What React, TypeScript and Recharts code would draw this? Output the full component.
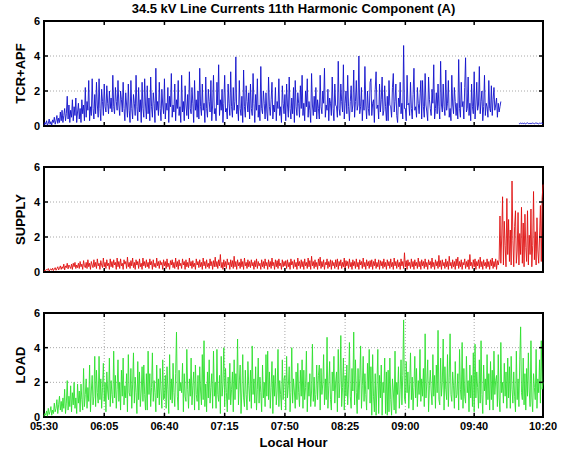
import React from 'react';
import { LineChart, Line, XAxis, YAxis, CartesianGrid, ReferenceArea, ReferenceLine } from 'recharts';

// Time axis: minutes after 05:30, one sample every 30 s (0 .. 290 min)
const SAMPLE_STEP_MIN = 0.5;
const tickMinutes = [0, 35, 70, 105, 140, 175, 210, 250, 290];
const tickLabels = ['05:30', '06:05', '06:40', '07:15', '07:50', '08:25', '09:00', '09:40', '10:20'];
const yTicks = [0, 2, 4, 6];

// TCR+APF (A) — one row = 10 minutes
const tcrApf: (number | null)[] = [
  0.05, 0.2, 0.1, 0.3, 0.05, 0.15, 0.4, 0.1, 0.25, 0.05, 0.35, 0.2, 0.5, 0.1, 0.3, 0.6, 0.15, 0.45, 0.2, 0.8,
  0.3, 0.9, 0.2, 0.6, 1.0, 0.3, 0.7, 1.7, 0.4, 1.2, 0.2, 0.9, 0.5, 1.5, 0.3, 1.1, 0.6, 1.6, 0.2, 0.8,
  1.3, 0.4, 1.0, 0.2, 1.5, 0.7, 1.2, 0.3, 2.2, 0.5, 1.4, 0.9, 2.6, 0.3, 1.1, 0.6, 2.7, 1.0, 0.4, 1.8,
  0.7, 2.5, 1.2, 0.5, 2.7, 1.0, 0.3, 2.1, 1.4, 0.6, 2.4, 1.1, 0.8, 2.3, 1.3, 0.7, 2.0, 1.0, 1.6, 0.8,
  2.9, 1.1, 0.7, 2.2, 1.4, 0.9, 2.6, 1.2, 0.6, 2.0, 1.5, 0.8, 2.5, 1.0, 0.3, 1.9, 1.2, 0.5, 2.4, 0.9,
  0.2, 2.6, 1.0, 0.4, 1.8, 1.3, 0.6, 2.9, 1.1, 0.3, 2.2, 0.8, 1.5, 0.2, 2.5, 1.0, 0.5, 2.7, 1.2, 0.4,
  2.3, 0.7, 1.6, 0.3, 2.8, 1.1, 0.5, 1.9, 1.3, 0.2, 3.3, 0.9, 1.4, 0.6, 2.5, 1.0, 0.3, 2.1, 1.2, 0.7,
  2.7, 0.4, 1.3, 0.9, 2.2, 0.2, 1.7, 1.1, 3.0, 0.5, 1.2, 0.8, 2.4, 0.3, 1.5, 1.0, 2.6, 0.6, 1.1, 0.2,
  2.9, 0.8, 1.4, 0.3, 2.3, 1.2, 0.6, 1.8, 0.4, 3.1, 1.0, 0.7, 2.2, 1.3, 0.2, 2.6, 0.9, 1.5, 0.5, 2.0,
  0.4, 3.3, 1.1, 0.6, 2.4, 0.9, 1.3, 0.2, 2.8, 1.0, 0.5, 2.1, 1.4, 0.8, 2.6, 0.3, 1.2, 2.9, 0.7, 1.0,
  0.3, 2.5, 1.2, 3.5, 0.6, 1.5, 0.9, 2.1, 0.2, 1.3, 2.9, 0.8, 1.0, 0.4, 2.4, 1.3, 0.6, 3.1, 1.1, 0.5,
  2.2, 0.9, 1.4, 3.95, 0.7, 1.2, 0.3, 2.6, 1.0, 0.6, 1.7, 0.2, 3.2, 1.1, 0.5, 2.3, 1.4, 0.8, 1.9, 0.4,
  2.4, 1.0, 0.6, 3.0, 1.3, 0.2, 1.8, 0.9, 2.7, 0.5, 1.2, 0.3, 3.4, 1.0, 0.7, 2.0, 1.3, 0.4, 1.9, 0.8,
  0.3, 2.8, 1.1, 0.6, 1.5, 2.5, 0.4, 1.2, 0.8, 2.2, 0.3, 1.4, 1.0, 2.7, 0.6, 1.1, 0.2, 2.3, 1.3, 0.7,
  1.8, 0.3, 2.4, 1.2, 0.5, 2.8, 1.0, 0.4, 1.6, 0.7, 2.2, 0.2, 2.6, 1.1, 0.6, 1.9, 1.3, 0.5, 2.3, 1.0,
  2.9, 0.6, 1.3, 0.3, 2.0, 1.1, 2.7, 0.5, 1.4, 0.9, 0.2, 3.0, 1.2, 0.6, 1.7, 0.8, 2.2, 0.4, 1.5, 1.0,
  0.4, 2.9, 1.1, 0.7, 2.0, 1.3, 3.3, 0.5, 1.2, 0.9, 2.1, 0.3, 1.6, 1.3, 0.6, 2.8, 1.0, 0.3, 2.4, 1.2,
  1.1, 0.5, 3.7, 1.0, 0.6, 2.4, 1.4, 0.8, 3.5, 0.4, 1.3, 2.0, 0.7, 2.9, 1.1, 0.3, 1.4, 2.3, 0.8, 1.2,
  3.2, 0.5, 1.4, 2.6, 0.9, 1.2, 4.0, 0.7, 1.1, 2.2, 0.3, 1.5, 0.9, 3.4, 1.2, 0.4, 2.0, 1.0, 0.6, 2.5,
  2.7, 0.6, 1.3, 1.5, 0.2, 2.1, 3.1, 1.0, 1.2, 0.4, 2.4, 0.8, 1.5, 2.8, 0.6, 0.9, 2.3, 1.1, 0.3, 1.7,
  0.3, 2.6, 1.2, 1.1, 0.5, 2.2, 3.0, 0.8, 1.4, 2.4, 0.6, 0.2, 1.6, 1.1, 2.5, 0.7, 1.3, 0.4, 4.6, 1.0,
  1.0, 0.3, 2.9, 1.2, 1.3, 0.6, 2.5, 1.0, 0.4, 1.8, 3.3, 0.9, 1.1, 0.5, 2.2, 1.3, 0.7, 1.6, 2.6, 0.4,
  2.6, 1.1, 0.5, 3.0, 1.2, 0.8, 0.3, 2.8, 1.5, 1.0, 0.6, 2.1, 1.3, 3.5, 0.4, 1.0, 1.9, 0.7, 2.4, 1.1,
  0.4, 3.7, 1.2, 0.8, 2.4, 1.1, 0.6, 3.2, 0.9, 1.3, 2.6, 0.5, 1.0, 0.3, 2.9, 1.2, 0.7, 2.2, 1.4, 0.6,
  1.3, 0.4, 3.8, 1.0, 0.5, 2.5, 1.1, 1.4, 0.4, 2.2, 3.9, 0.8, 1.0, 2.8, 0.6, 1.3, 0.3, 2.4, 1.1, 0.7,
  3.1, 0.4, 1.2, 2.5, 0.9, 1.2, 3.4, 0.7, 1.4, 2.0, 0.3, 1.1, 2.9, 0.6, 1.3, 1.1, 0.5, 2.6, 1.0, 0.8,
  2.3, 0.6, 1.5, 2.2, 0.9, 1.2, 1.6, 0.5, 1.3, 0.8, 1.1, 1.4,
  null, null, null, null, null, null, null, null, null, null, null, null, null, null, null, null, null, null, null, null,
  0.15, 0.12, 0.18, 0.14, 0.16, 0.13, 0.17, 0.15, 0.12, 0.16, 0.18, 0.14, 0.15, 0.13, 0.16, 0.14, 0.17, 0.15, 0.13, 0.16,
  0.18, 0.14, 0.15, 0.12, 0.16, 0.15, 0.17, 0.14, 0.16,
];

// SUPPLY (A)
const supply: number[] = [
  0.05, 0.12, 0.08, 0.15, 0.1, 0.2, 0.06, 0.14, 0.18, 0.1, 0.22, 0.08, 0.16, 0.25, 0.1, 0.2, 0.3, 0.12, 0.22, 0.35,
  0.15, 0.3, 0.2, 0.45, 0.12, 0.35, 0.25, 0.5, 0.18, 0.4, 0.3, 0.2, 0.45, 0.15, 0.5, 0.3, 0.55, 0.2, 0.4, 0.25,
  0.5, 0.2, 0.6, 0.3, 0.45, 0.15, 0.65, 0.35, 0.25, 0.55, 0.2, 0.7, 0.3, 0.5, 0.15, 0.6, 0.4, 0.25, 0.7, 0.3,
  0.55, 0.2, 0.75, 0.35, 0.5, 0.15, 0.65, 0.4, 0.25, 0.8, 0.3, 0.55, 0.2, 0.7, 0.35, 0.5, 0.15, 0.75, 0.3, 0.6,
  0.25, 0.7, 0.4, 0.55, 0.15, 0.8, 0.3, 0.6, 0.2, 0.75, 0.35, 0.5, 0.15, 0.7, 0.45, 0.6, 0.2, 0.85, 0.3, 0.55,
  0.2, 0.65, 0.35, 0.8, 0.25, 0.55, 0.15, 0.7, 0.4, 0.6, 0.2, 0.75, 0.3, 0.5, 0.15, 0.8, 0.35, 0.6, 0.25, 0.7,
  0.3, 0.55, 0.2, 0.75, 0.4, 0.6, 0.15, 0.7, 0.3, 0.5, 0.25, 0.8, 0.35, 0.6, 0.2, 0.65, 0.4, 0.55, 0.15, 0.7,
  0.35, 0.6, 0.2, 0.75, 0.3, 0.5, 0.15, 0.65, 0.4, 0.7, 0.25, 0.55, 0.2, 0.8, 0.3, 0.6, 0.15, 0.7, 0.35, 0.5,
  0.2, 0.75, 0.4, 0.6, 0.15, 0.7, 0.3, 0.55, 0.25, 0.8, 0.35, 0.6, 0.2, 0.65, 0.3, 0.5, 0.15, 0.75, 0.4, 0.6,
  0.25, 0.7, 0.3, 0.55, 0.15, 0.8, 0.35, 0.6, 0.2, 0.7, 0.3, 0.5, 0.2, 0.75, 0.35, 0.6, 0.15, 0.65, 0.3, 0.85,
  0.3, 0.6, 0.2, 0.7, 0.35, 1.0, 0.25, 0.55, 0.15, 0.7, 0.3, 0.6, 0.2, 0.75, 0.4, 0.55, 0.15, 0.7, 0.3, 0.65,
  0.2, 0.9, 0.3, 0.6, 0.15, 0.7, 0.35, 0.55, 0.2, 0.75, 0.3, 0.6, 0.15, 0.8, 0.35, 0.55, 0.2, 0.7, 0.3, 0.6,
  0.25, 0.7, 0.35, 0.55, 0.15, 0.65, 0.3, 0.75, 0.2, 0.6, 0.35, 0.5, 0.15, 0.7, 0.3, 0.6, 0.2, 0.75, 0.35, 0.55,
  0.15, 0.7, 0.3, 0.6, 0.2, 0.8, 0.35, 0.55, 0.15, 0.7, 0.3, 0.65, 0.2, 0.75, 0.35, 0.5, 0.15, 0.7, 0.3, 0.6,
  0.35, 0.65, 0.2, 0.7, 0.3, 0.55, 0.15, 0.75, 0.4, 0.6, 0.2, 0.7, 0.3, 0.55, 0.15, 0.8, 0.35, 0.6, 0.2, 0.7,
  0.3, 0.6, 0.15, 0.75, 0.35, 0.55, 0.2, 0.8, 0.3, 0.65, 0.15, 0.9, 0.35, 0.6, 0.2, 0.7, 0.3, 0.55, 0.15, 0.75,
  0.35, 0.85, 0.2, 0.6, 0.3, 0.7, 0.15, 0.55, 0.4, 0.75, 0.2, 0.6, 0.3, 0.7, 0.15, 0.65, 0.35, 0.55, 0.2, 0.7,
  0.3, 0.75, 0.15, 0.6, 0.35, 0.7, 0.2, 0.55, 0.3, 0.8, 0.15, 0.65, 0.35, 0.6, 0.2, 0.75, 0.3, 0.55, 0.15, 0.7,
  0.35, 0.6, 0.2, 0.75, 0.3, 0.55, 0.15, 0.7, 0.4, 0.6, 0.2, 0.8, 0.3, 0.55, 0.15, 0.7, 0.35, 0.6, 0.2, 0.65,
  0.3, 0.7, 0.15, 0.6, 0.35, 0.75, 0.2, 0.55, 0.3, 0.7, 0.15, 0.65, 0.35, 0.6, 0.2, 0.75, 0.3, 0.55, 0.15, 0.7,
  0.35, 0.6, 0.2, 0.75, 0.3, 0.55, 0.15, 0.8, 0.35, 0.6, 0.2, 0.7, 0.3, 0.55, 0.15, 0.75, 0.35, 0.6, 0.2, 1.1,
  0.3, 0.65, 0.15, 0.7, 0.35, 0.55, 0.2, 0.75, 0.3, 0.6, 0.15, 0.7, 0.35, 0.55, 0.2, 0.8, 0.3, 0.6, 0.15, 0.7,
  0.35, 0.6, 0.2, 0.75, 0.3, 0.55, 0.15, 0.7, 0.4, 0.6, 0.2, 0.8, 0.3, 0.55, 0.15, 0.7, 0.35, 0.6, 0.2, 0.95,
  0.3, 0.65, 0.15, 0.7, 0.35, 0.55, 0.2, 0.75, 0.3, 0.6, 0.15, 0.9, 0.35, 0.55, 0.2, 0.7, 0.3, 0.6, 0.15, 0.75,
  0.35, 0.85, 0.2, 0.6, 0.3, 0.7, 0.15, 0.55, 0.4, 0.75, 0.2, 0.6, 0.3, 0.7, 0.15, 1.0, 0.35, 0.55, 0.2, 0.7,
  0.3, 0.75, 0.15, 0.6, 0.35, 0.7, 0.2, 0.85, 0.3, 0.6, 0.15, 0.7, 0.35, 0.55, 0.2, 0.75, 0.3, 0.6, 0.15, 0.7,
  0.35, 0.8, 0.2, 0.6, 0.3, 0.75, 0.15, 0.65, 0.4, 0.7, 3.2, 0.5, 2.0, 4.3, 0.4, 2.9, 1.5, 0.3, 4.2, 1.0,
  3.0, 0.6, 2.4, 0.4, 5.2, 1.8, 0.3, 2.6, 3.5, 0.5, 1.2, 3.4, 0.4, 2.2, 1.0, 3.7, 0.5, 2.8, 0.3, 3.3,
  1.4, 0.6, 3.5, 0.4, 2.1, 1.0, 3.6, 0.3, 1.5, 4.6, 0.7, 2.3, 0.4, 3.1, 1.2, 0.5, 2.0, 3.8, 0.6, 4.2,
  5.0,
];

// LOAD (A)
const load: number[] = [
  0.05, 0.2, 0.1, 0.35, 0.05, 0.5, 0.15, 0.3, 0.6, 0.1, 0.4, 0.2, 0.8, 0.3, 0.5, 1.0, 0.2, 0.7, 1.2, 0.4,
  0.9, 0.3, 1.1, 0.5, 1.6, 0.2, 0.8, 2.1, 0.4, 1.2, 0.6, 1.8, 0.3, 1.4, 0.7, 2.0, 0.5, 1.1, 0.2, 1.9,
  0.8, 1.5, 0.3, 1.9, 1.0, 0.4, 2.8, 0.6, 1.3, 2.2, 0.5, 1.7, 0.9, 3.0, 0.3, 1.5, 2.4, 0.7, 1.2, 3.5,
  0.6, 2.7, 1.4, 0.8, 3.5, 1.0, 2.2, 0.5, 1.7, 3.1, 0.9, 2.0, 0.3, 2.6, 1.5, 1.0, 3.4, 0.6, 2.1, 1.3,
  0.8, 3.8, 1.1, 2.4, 0.5, 1.6, 3.3, 0.9, 2.0, 0.4, 2.7, 1.2, 3.4, 0.7, 1.8, 1.1, 2.5, 0.3, 3.6, 1.4,
  1.2, 2.8, 0.5, 1.9, 3.7, 0.8, 2.3, 1.4, 0.2, 3.2, 1.0, 2.6, 0.6, 1.5, 2.9, 0.9, 3.0, 1.3, 0.4, 2.5,
  0.4, 3.8, 1.3, 2.5, 0.6, 1.7, 3.7, 0.9, 2.1, 1.4, 0.3, 3.0, 1.1, 2.2, 0.7, 2.8, 1.5, 0.5, 3.3, 1.0,
  1.1, 2.4, 0.5, 2.9, 1.6, 0.2, 3.6, 1.0, 2.2, 0.8, 3.1, 1.4, 0.6, 2.5, 4.9, 1.2, 0.4, 2.7, 1.5, 2.0,
  1.4, 3.1, 0.3, 2.5, 1.2, 0.9, 3.9, 1.6, 0.5, 2.2, 1.2, 3.4, 0.7, 1.8, 2.6, 0.4, 3.0, 1.3, 0.9, 2.4,
  0.4, 2.9, 1.5, 0.7, 3.6, 1.0, 4.4, 0.6, 1.9, 0.3, 2.6, 1.1, 3.3, 0.8, 1.7, 2.5, 0.5, 3.8, 1.2, 2.0,
  0.5, 3.9, 1.3, 0.9, 2.4, 0.2, 3.5, 1.2, 1.9, 4.0, 0.6, 2.8, 1.4, 0.3, 2.3, 1.0, 3.1, 0.7, 1.6, 2.6,
  0.3, 3.3, 1.0, 2.5, 1.6, 4.5, 0.7, 2.0, 3.0, 0.2, 1.5, 3.6, 1.1, 0.6, 2.7, 1.3, 0.4, 3.2, 1.8, 0.9,
  2.7, 0.5, 4.1, 1.3, 2.2, 0.8, 2.9, 0.4, 1.6, 3.4, 0.8, 2.3, 1.4, 0.3, 3.0, 1.1, 2.0, 0.6, 3.6, 1.2,
  3.8, 1.0, 2.6, 0.5, 1.7, 3.2, 0.2, 2.4, 1.2, 2.8, 0.7, 1.5, 3.9, 0.6, 2.1, 1.3, 0.4, 3.3, 1.0, 2.2,
  2.4, 0.4, 3.5, 1.1, 1.8, 2.9, 0.3, 1.4, 4.0, 0.8, 2.2, 1.5, 0.5, 2.6, 1.0, 3.1, 1.4, 0.6, 2.7, 1.2,
  3.3, 0.5, 2.7, 1.0, 1.7, 3.8, 0.3, 2.0, 1.2, 2.5, 0.6, 1.5, 4.2, 0.9, 2.3, 0.6, 1.3, 3.0, 1.0, 2.4,
  3.0, 0.4, 2.8, 1.3, 1.9, 3.6, 0.7, 2.2, 1.0, 4.6, 0.5, 1.8, 3.2, 1.0, 0.4, 2.6, 1.5, 3.5, 0.8, 2.0,
  2.6, 0.3, 3.9, 1.1, 2.0, 4.7, 0.6, 1.7, 3.4, 0.4, 2.4, 1.2, 3.0, 0.7, 1.9, 4.3, 1.2, 0.5, 2.8, 1.5,
  4.9, 0.7, 3.3, 1.4, 0.2, 2.8, 1.0, 2.2, 4.1, 0.5, 1.8, 3.5, 0.9, 2.5, 1.3, 0.4, 3.1, 1.6, 3.9, 0.8,
  2.9, 0.1, 3.6, 1.2, 0.3, 2.5, 0.1, 1.8, 3.9, 0.2, 2.4, 1.1, 3.0, 0.1, 2.0, 1.4, 3.4, 0.2, 2.6, 0.1,
  2.7, 0.3, 3.4, 1.0, 0.1, 2.2, 1.5, 0.4, 3.8, 0.2, 2.0, 1.3, 2.9, 0.5, 1.6, 3.3, 0.7, 2.4, 5.6, 1.1,
  0.8, 3.2, 1.4, 2.6, 0.5, 1.9, 3.7, 1.0, 2.3, 0.4, 1.7, 3.5, 1.1, 2.8, 0.6, 2.1, 1.3, 3.9, 0.9, 2.2,
  1.2, 2.8, 0.6, 4.8, 1.1, 2.0, 3.3, 0.3, 1.8, 2.7, 1.5, 0.7, 3.6, 1.2, 2.4, 0.5, 3.0, 1.4, 5.0, 1.0,
  0.7, 3.4, 1.2, 2.0, 4.5, 0.4, 2.9, 1.6, 1.0, 3.6, 0.6, 2.3, 4.8, 1.3, 0.9, 2.6, 1.8, 0.5, 3.2, 1.1,
  1.3, 2.5, 0.4, 3.9, 1.6, 1.0, 4.3, 0.5, 2.8, 1.2, 0.8, 3.5, 1.4, 2.1, 0.3, 3.0, 1.1, 2.4, 0.6, 3.7,
  0.3, 4.2, 1.1, 2.6, 1.7, 0.5, 3.3, 0.8, 4.4, 1.3, 0.2, 3.0, 1.5, 2.2, 0.7, 3.6, 1.0, 2.5, 0.4, 3.2,
  1.0, 2.7, 0.4, 3.8, 1.3, 2.1, 2.4, 0.6, 3.6, 1.1, 0.3, 4.3, 1.4, 2.0, 0.8, 3.1, 1.2, 2.6, 0.5, 3.4,
  1.1, 2.9, 0.5, 3.5, 1.6, 0.8, 2.6, 1.2, 0.3, 3.8, 1.0, 2.2, 0.6, 3.3, 5.2, 1.4, 1.0, 3.4, 0.7, 2.5,
  0.4, 2.8, 1.2, 3.7, 1.5, 0.6, 4.4, 1.1, 0.3, 2.5, 1.7, 1.0, 3.9, 0.5, 2.2, 1.4, 3.3, 0.8, 4.4, 1.6,
  2.0,
];

const rows = load.map((v, i) => ({
  t: i * SAMPLE_STEP_MIN,
  tcr: tcrApf[i] ?? null,
  supply: supply[i],
  load: v,
}));

const FONT = '"Liberation Sans", Arial, sans-serif';
const innerXTicks = tickMinutes.slice(1, -1);
const innerYTicks = yTicks.slice(1, -1);
const X_MAX = 290;
const Y_MAX = 6;
const TICK_DX = 2.3;
const TICK_DY = 0.23;

type PanelProps = {
  dataKey: string;
  color: string;
  label: string;
  top: number;
  height: number;
  marginTop: number;
  marginBottom: number;
  showX: boolean;
};

const Panel = ({ dataKey, color, label, top, height, marginTop, marginBottom, showX }: PanelProps) => (
  <div style={{ position: 'absolute', left: 0, top }}>
    <LineChart
      width={567}
      height={height}
      data={rows}
      margin={{ top: marginTop, right: 24, bottom: marginBottom, left: 0 }}
    >
      <CartesianGrid stroke="#a8a8a8" strokeDasharray="1 2" />
      <XAxis
        dataKey="t"
        type="number"
        domain={[0, X_MAX]}
        ticks={tickMinutes}
        interval={0}
        tickFormatter={(v: number) => tickLabels[tickMinutes.indexOf(v)] ?? ''}
        height={showX ? 30 : 0}
        tick={showX ? { fontSize: 11, fontWeight: 'bold', fill: '#000', fontFamily: FONT } : false}
        axisLine={false}
        tickLine={false}
        tickSize={0}
        tickMargin={5}
        label={
          showX
            ? { value: 'Local Hour', position: 'insideBottom', offset: 0, style: { fontSize: 13, fontWeight: 'bold', fill: '#000', fontFamily: FONT } }
            : undefined
        }
      />
      <YAxis
        domain={[0, Y_MAX]}
        ticks={yTicks}
        interval={0}
        width={44}
        axisLine={false}
        tickLine={false}
        tickSize={0}
        tickMargin={4}
        tick={{ fontSize: 11, fontWeight: 'bold', fill: '#000', fontFamily: FONT }}
        label={{ value: label, angle: -90, position: 'center', dx: -2, style: { fontSize: 13, fontWeight: 'bold', fill: '#000', fontFamily: FONT } }}
      />
      <Line
        type="linear"
        dataKey={dataKey}
        stroke={color}
        strokeWidth={0.9}
        dot={false}
        connectNulls={false}
        isAnimationActive={false}
      />
      {innerXTicks.map((m) => (
        <ReferenceLine key={'xb' + m} segment={[{ x: m, y: 0 }, { x: m, y: TICK_DY }]} stroke="#000" strokeWidth={1.5} />
      ))}
      {innerXTicks.map((m) => (
        <ReferenceLine key={'xt' + m} segment={[{ x: m, y: Y_MAX }, { x: m, y: Y_MAX - TICK_DY }]} stroke="#000" strokeWidth={1.5} />
      ))}
      {innerYTicks.map((v) => (
        <ReferenceLine key={'yl' + v} segment={[{ x: 0, y: v }, { x: TICK_DX, y: v }]} stroke="#000" strokeWidth={1.5} />
      ))}
      {innerYTicks.map((v) => (
        <ReferenceLine key={'yr' + v} segment={[{ x: X_MAX, y: v }, { x: X_MAX - TICK_DX, y: v }]} stroke="#000" strokeWidth={1.5} />
      ))}
      <ReferenceArea x1={0} x2={X_MAX} y1={0} y2={Y_MAX} fill="none" stroke="#000" strokeWidth={2} />
    </LineChart>
  </div>
);

export default function App() {
  return (
    <div style={{ position: 'absolute', left: 0, top: 0, width: 567, height: 454, background: '#fff', fontFamily: FONT }}>
      <div
        style={{
          position: 'absolute',
          left: 44,
          width: 499,
          top: 1,
          textAlign: 'center',
          fontSize: 13,
          fontWeight: 'bold',
          lineHeight: '16px',
          color: '#000',
        }}
      >
        34.5 kV Line Currents 11th Harmonic Component (A)
      </div>
      <Panel dataKey="tcr" color="#1212cc" label="TCR+APF" top={0} height={140} marginTop={21} marginBottom={14} showX={false} />
      <Panel dataKey="supply" color="#e01010" label="SUPPLY" top={140} height={150} marginTop={27} marginBottom={18} showX={false} />
      <Panel dataKey="load" color="#2ee02e" label="LOAD" top={290} height={164} marginTop={23} marginBottom={7} showX={true} />
    </div>
  );
}
